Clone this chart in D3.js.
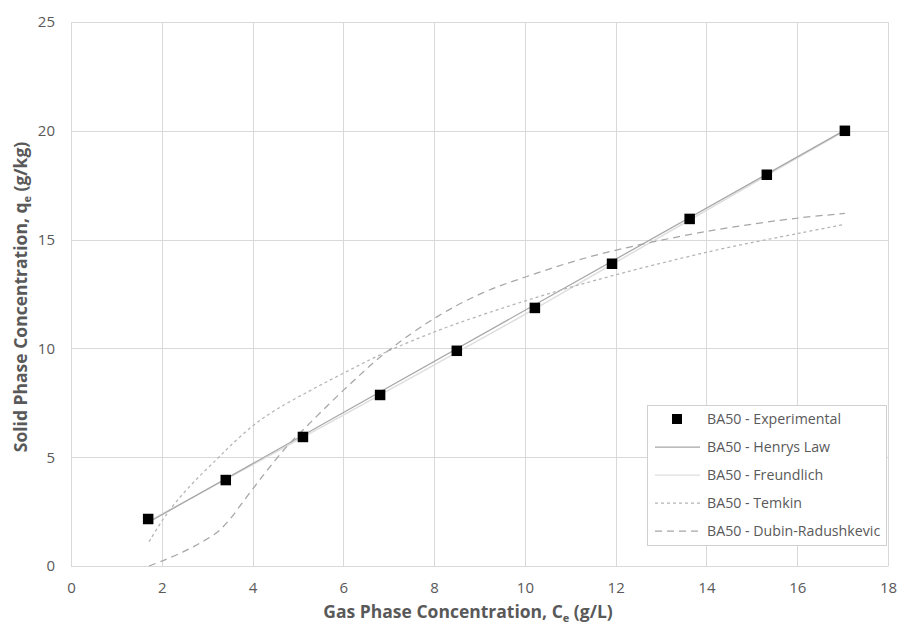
<!DOCTYPE html>
<html>
<head>
<meta charset="utf-8">
<script src="https://cdn.jsdelivr.net/npm/d3@7"></script>
<style>
  html, body { margin: 0; padding: 0; background: #fff; }
  svg { display: block; }
  text { font-family: "Open Sans", "Noto Sans", sans-serif; }
</style>
</head>
<body>
<svg id="chart" width="906" height="628"></svg>
<script>
// ---- Data ----
const expX = [1.70, 3.41, 5.11, 6.81, 8.50, 10.22, 11.92, 13.63, 15.33, 17.05];
const expY = [2.16, 3.95, 5.93, 7.86, 9.89, 11.86, 13.89, 15.95, 17.98, 20.00];

const henryX = [1.70, 17.05];
const henryY = [2.00, 20.03];

const freundX = [1.70, 3.41, 5.11, 6.81, 8.50, 10.22, 11.92, 13.63, 15.33, 17.05];
const freundY = [2.05, 3.98, 5.92, 7.86, 9.82, 11.82, 13.86, 15.90, 17.95, 20.00];

const temkinX = [1.72, 2.03, 2.33, 2.77, 3.21, 3.50, 4.01, 4.53, 5.26, 6.04, 6.96, 8.06, 9.07, 10.11, 11.59, 14.07, 16.06, 17.05];
const temkinY = [1.12, 2.15, 2.98, 4.00, 4.90, 5.50, 6.45, 7.20, 8.05, 8.90, 9.85, 10.80, 11.55, 12.25, 13.15, 14.45, 15.30, 15.70];

const drX = [1.72, 2.03, 2.47, 2.84, 3.22, 3.50, 3.79, 4.10, 4.38, 4.76, 5.04, 6.04, 6.96, 8.06, 9.07, 10.11, 11.59, 14.07, 16.06, 17.05];
const drY = [0.00, 0.25, 0.65, 1.05, 1.55, 2.15, 2.95, 3.80, 4.55, 5.50, 6.10, 8.15, 9.85, 11.45, 12.55, 13.35, 14.30, 15.40, 16.00, 16.20];

const xTicks = [0, 2, 4, 6, 8, 10, 12, 14, 16, 18];
const yTicks = [0, 5, 10, 15, 20, 25];

const legendLabels = ["BA50 - Experimental", "BA50 - Henrys Law", "BA50 - Freundlich", "BA50 - Temkin", "BA50 - Dubin-Radushkevic"];

// ---- Layout ----
const svg = d3.select("#chart");
const x = d3.scaleLinear().domain([0, 18]).range([71, 888]);
const y = d3.scaleLinear().domain([0, 25]).range([566, 22]);
const textColor = "#595959";
const gridColor = "#d9d9d9";

// gridlines
svg.append("g").selectAll("line.h").data(yTicks).join("line")
  .attr("x1", x(0)).attr("x2", x(18))
  .attr("y1", d => Math.round(y(d)) + 0.5).attr("y2", d => Math.round(y(d)) + 0.5)
  .attr("stroke", gridColor).attr("stroke-width", 1);
svg.append("g").selectAll("line.v").data(xTicks).join("line")
  .attr("y1", y(0)).attr("y2", y(25))
  .attr("x1", d => Math.round(x(d)) + 0.5).attr("x2", d => Math.round(x(d)) + 0.5)
  .attr("stroke", gridColor).attr("stroke-width", 1);

// axes (labels only)
const xAxis = d3.axisBottom(x).tickValues(xTicks).tickSize(0).tickPadding(16);
const gx = svg.append("g").attr("transform", `translate(0,${y(0)})`).call(xAxis);
gx.select(".domain").attr("stroke", gridColor);
gx.selectAll("text").attr("fill", textColor).attr("font-size", 15);

const yAxis = d3.axisLeft(y).tickValues(yTicks).tickSize(0).tickPadding(16);
const gy = svg.append("g").attr("transform", `translate(${x(0)},0)`).call(yAxis);
gy.select(".domain").attr("stroke", gridColor);
gy.selectAll("text").attr("fill", textColor).attr("font-size", 15);

// axis titles
const xt = svg.append("text").attr("x", 468).attr("y", 618).attr("text-anchor", "middle")
  .attr("fill", textColor).attr("font-size", 17.5).attr("font-weight", "bold");
xt.append("tspan").text("Gas Phase Concentration, C");
xt.append("tspan").text("e").attr("font-size", 11).attr("dy", 4);
xt.append("tspan").text(" (g/L)").attr("dy", -4);

const yt = svg.append("text").attr("transform", "translate(27,297) rotate(-90)").attr("text-anchor", "middle")
  .attr("fill", textColor).attr("font-size", 17.5).attr("font-weight", "bold");
yt.append("tspan").text("Solid Phase Concentration, q");
yt.append("tspan").text("e").attr("font-size", 11).attr("dy", 4);
yt.append("tspan").text(" (g/kg)").attr("dy", -4);

// lines
const line = d3.line().x(d => x(d[0])).y(d => y(d[1])).curve(d3.curveCatmullRom.alpha(0.5));
const series = [
  { xs: freundX, ys: freundY, color: "#dedede", dash: null, w: 1.5 },
  { xs: henryX, ys: henryY, color: "#a6a6a6", dash: null, w: 1.25 },
  { xs: temkinX, ys: temkinY, color: "#b4b4b4", dash: "3,3", w: 1.25 },
  { xs: drX, ys: drY, color: "#a6a6a6", dash: "7,5", w: 1.25 }
];
series.forEach(s => {
  svg.append("path").datum(d3.zip(s.xs, s.ys))
    .attr("d", line).attr("fill", "none")
    .attr("stroke", s.color).attr("stroke-width", s.w)
    .attr("stroke-dasharray", s.dash);
});

// markers
const ms = 10.5;
svg.append("g").selectAll("rect").data(d3.zip(expX, expY)).join("rect")
  .attr("x", d => x(d[0]) - ms / 2).attr("y", d => y(d[1]) - ms / 2)
  .attr("width", ms).attr("height", ms).attr("fill", "#000");

// legend
const lg = svg.append("g");
lg.append("rect").attr("x", 647.5).attr("y", 405.5).attr("width", 239).attr("height", 140)
  .attr("fill", "#fff").attr("stroke", "#d0d0d0");
const legendStyles = [
  { type: "marker" },
  { color: "#a6a6a6", dash: null },
  { color: "#dedede", dash: null },
  { color: "#b4b4b4", dash: "3,3" },
  { color: "#a6a6a6", dash: "7,5" }
];
legendLabels.forEach((lab, i) => {
  const cy = 419 + i * 28;
  const st = legendStyles[i];
  if (st.type === "marker") {
    lg.append("rect").attr("x", 677 - 5).attr("y", cy - 5).attr("width", 10).attr("height", 10).attr("fill", "#000");
  } else {
    lg.append("line").attr("x1", 655).attr("x2", 700).attr("y1", cy).attr("y2", cy)
      .attr("stroke", st.color).attr("stroke-width", 1.25).attr("stroke-dasharray", st.dash);
  }
  lg.append("text").attr("x", 707).attr("y", cy).attr("dy", "0.35em")
    .attr("fill", textColor).attr("font-size", 14.2).text(lab);
});
</script>
</body>
</html>
